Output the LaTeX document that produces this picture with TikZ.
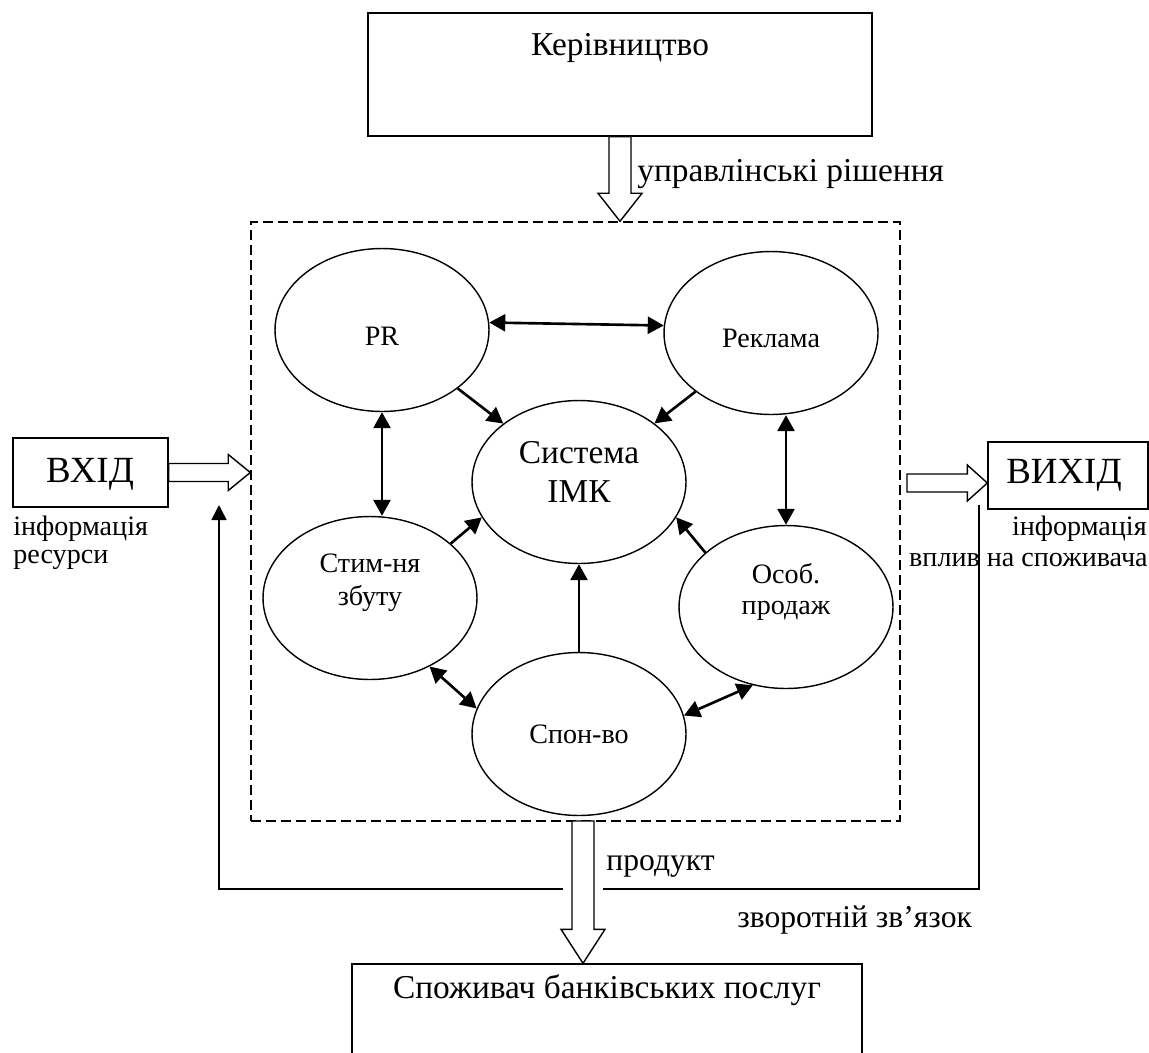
\documentclass[tikz,border=0pt]{standalone}
\usepackage{fontspec}
\setmainfont{Liberation Serif}
\usepackage{tikz}
\usetikzlibrary{arrows.meta,calc,shapes.geometric}

\newcommand{\fatdown}[3]{\draw[fatarrow] let \p1=(#1), \p2=(#2) in
	({\x1-0.22cm},\y1) -- ({\x1+0.22cm},\y1) -- ({\x1+0.22cm},{\y2+#3}) -- ({\x1+0.44cm},{\y2+#3}) -- (\x1,\y2) -- ({\x1-0.44cm},{\y2+#3}) -- ({\x1-0.22cm},{\y2+#3}) -- cycle;}
\newcommand{\fatright}[3]{\draw[fatarrow] let \p1=(#1), \p2=(#2) in
	(\x1,{\y1+0.18cm}) -- (\x1,{\y1-0.18cm}) -- ({\x2-#3},{\y1-0.18cm}) -- ({\x2-#3},{\y1-0.36cm}) -- (\x2,\y1) -- ({\x2-#3},{\y1+0.36cm}) -- ({\x2-#3},{\y1+0.18cm}) -- cycle;}

\begin{document}
\begin{tikzpicture}[x=0.02cm,y=-0.02cm,
	imc/.style={ellipse,draw,line width=0.8pt,minimum width=4.28cm,minimum height=3.26cm,inner sep=0pt},
	box/.style={rectangle,draw,line width=0.8pt,inner sep=0pt},
	txt/.style={inner sep=0pt},
	oneway/.style={line width=1.5pt,-{Triangle[length=0.32cm,width=0.34cm]}},
	twoway/.style={line width=1.5pt,{Triangle[length=0.32cm,width=0.34cm]}-{Triangle[length=0.32cm,width=0.34cm]}},
	fatarrow/.style={fill=white,line width=0.8pt},
	every label/.style={align=center}]
			\clip (0,0) rectangle (1149,1052);
			\node[box,minimum width=10.08cm,minimum height=2.46cm] at (620,74.5) (ker){};
			\node[txt,font=\fontsize{19}{22}\selectfont,anchor=base] at (620,55) (kertxt){Керівництво};
			\node[box,line width=0.9pt,dash pattern=on 0.2cm off 0.1cm,minimum width=12.98cm,minimum height=11.98cm] at (575.5,521.5) (frame){};
			\node[box,minimum width=10.2cm,minimum height=2.8cm] at (607,1034) (cons){};
			\node[txt,font=\fontsize{19}{22}\selectfont,anchor=base] at (607,998) (constxt){Споживач банківських послуг};
			\node[box,minimum width=3.1cm,minimum height=1.38cm] at (90.5,472.5) (vhid){};
			\node[txt,font=\fontsize{21}{24}\selectfont,anchor=base] at (90,482) (vhidtxt){ВХІД};
			\node[box,minimum width=3.2cm,minimum height=1.34cm] at (1068,475.5) (vyhid){};
			\node[txt,font=\fontsize{21}{24}\selectfont,anchor=base] at (1064,483) (vyhidtxt){ВИХІД};

			\node[imc,label={[font=\fontsize{16}{18}\selectfont,yshift=-0.12cm]center:PR}] at (382,330) (pr){};
			\node[imc,label={[font=\fontsize{16}{18}\selectfont,yshift=-0.1cm]center:Реклама}] at (771,333) (ad){};
			\node[imc,label={[font=\fontsize{19}{22}\selectfont,yshift=0.2cm]center:Система\\ІМК}] at (579,482) (sys){};
			\node[imc,label={[font=\fontsize{16}{19}\selectfont,yshift=0.3cm]center:Стим-ня\\збуту}] at (370,598) (stim){};
			\node[imc,label={[font=\fontsize{16}{18}\selectfont,yshift=0.3cm]center:Особ.\\продаж}] at (786,607) (pers){};
			\node[imc,label={[font=\fontsize{16}{18}\selectfont]center:Спон-во}] at (579,734) (spon){};

			\draw[oneway] (pr) -- (sys);
			\draw[oneway] (ad) -- (sys);
			\draw[oneway] (stim.34) -- (sys.200);
			\draw[oneway] (pers.146) -- (sys.340);
			\draw[oneway] (spon) -- (sys);
			\draw[twoway] (pr.4) -- (ad.176);
			\draw[twoway] (pr.south) -- (pr.south |- stim.north);
			\draw[twoway] (pers.north |- ad.south) -- (pers.north);
			\draw[twoway] (stim.311) -- (spon.166);
			\draw[twoway] (spon.10) -- (pers.247);

			\coordinate (prod) at (583,821);
			\coordinate (outs) at (907,483);
			\coordinate (fbo) at (979,505);
			\coordinate (fbc) at (219,889);
			\coordinate (fbi) at (219,505);
			\draw[line width=0.9pt,-{Triangle[length=0.3cm,width=0.3cm]}] (fbo) |- ($(prod |- fbc)+(20,0)$) ($(prod |- fbc)+(-20,0)$) -- (fbc) -- (fbi);

			\fatdown{ker.south}{ker.south |- frame.north}{0.56cm}
			\fatdown{prod}{prod |- cons.north}{0.68cm}
			\fatright{vhid.east}{vhid.east -| frame.west}{0.44cm}
			\fatright{outs}{outs -| vyhid.west}{0.4cm}

			\node[txt,font=\fontsize{19}{22}\selectfont,anchor=base west] at (637,181) (dec){управлінські рішення};
			\node[txt,font=\fontsize{18}{21}\selectfont,anchor=base west] at (606,870) (prodtxt){продукт};
			\node[txt,font=\fontsize{18}{21}\selectfont,anchor=base west] at (737,927) (fbtxt){зворотній зв’язок};
			\node[txt,font=\fontsize{16}{18}\selectfont,anchor=base west] at (13,535) (in1){інформація};
			\node[txt,font=\fontsize{16}{18}\selectfont,anchor=base west] at (13,563) (in2){ресурси};
			\node[txt,font=\fontsize{16}{18}\selectfont,anchor=base east] at (1147,535) (out1){інформація};
			\node[txt,font=\fontsize{16}{18}\selectfont,anchor=base east] at (1148,566) (out2){вплив на споживача};
		\end{tikzpicture}
\end{document}
